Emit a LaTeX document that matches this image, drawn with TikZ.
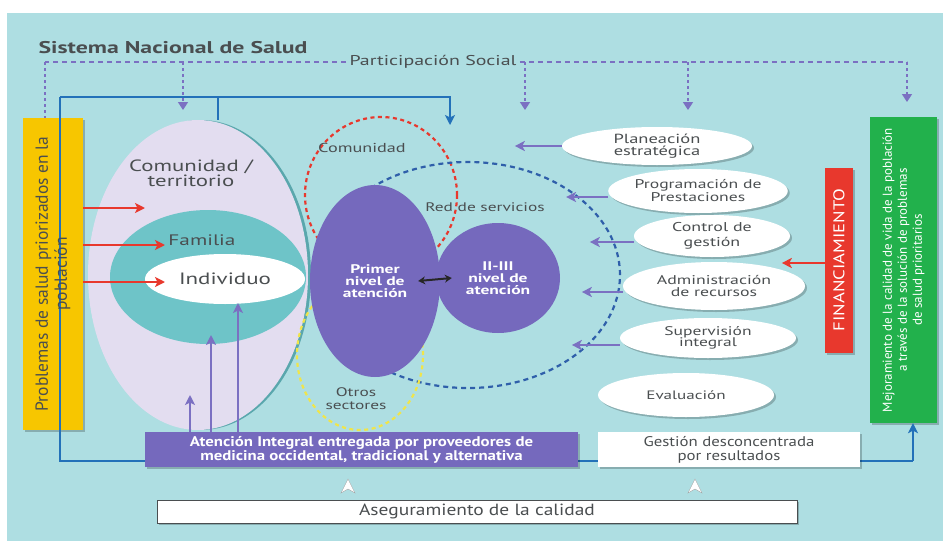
\documentclass[tikz,border=0pt]{standalone}
\usepackage{fontspec}
\setmainfont{PT Sans}[FakeStretch=1.4]
\newfontfamily\cajafont{PT Sans}[FakeStretch=1.2]
\newfontfamily\rotfont{PT Sans}
\usetikzlibrary{shapes.geometric}
\usetikzlibrary{shadows}
\usetikzlibrary{positioning}
\usetikzlibrary{arrows.meta}

\begin{document}
\begin{tikzpicture}[x=1pt,y=-1pt,>={Stealth[length=10pt,width=10pt,inset=2.5pt]},
	sombra/.style={drop shadow={shadow xshift=2pt,shadow yshift=-2pt,fill=black,opacity=.22}},
	caja/.style={rectangle,inner sep=0pt,align=center,sombra},
	elipse/.style={ellipse,inner sep=0pt,align=center},
	gestion/.style={elipse,fill=white,sombra,text=texto},
	participa/.style={draw=lila,line width=1.6pt,dash pattern=on 5pt off 4pt},
	baja/.style={draw=lila,line width=1.6pt,dash pattern=on 3pt off 3pt,
		-{Triangle[length=8pt,width=10pt]}},
	flecha roja/.style={->,draw=rojo,line width=2.2pt},
	flecha lila/.style={->,draw=lila,line width=2pt},
	linea azul/.style={draw=azul,line width=1.5pt},
	etiqueta/.style={text=texto,align=center}]

	\definecolor{fondo}{RGB}{174,222,226}
	\definecolor{lavanda}{RGB}{227,221,240}
	\definecolor{turquesa}{RGB}{110,196,200}
	\definecolor{verdeazul}{RGB}{90,167,173}
	\definecolor{morado}{RGB}{117,105,189}
	\definecolor{lila}{RGB}{123,112,194}
	\definecolor{rojo}{RGB}{232,56,45}
	\definecolor{amarillo}{RGB}{247,198,0}
	\definecolor{verde}{RGB}{34,177,76}
	\definecolor{azul}{RGB}{35,113,185}
	\definecolor{azulpunto}{RGB}{47,95,170}
	\definecolor{amarillopunto}{RGB}{240,229,74}
	\definecolor{texto}{RGB}{74,78,80}

	\useasboundingbox (0,0) rectangle (943,541);
	\fill[fondo] (7,13) rectangle (943,541);

	\node[etiqueta,anchor=west,font=\fontsize{17}{17}\selectfont\bfseries] (titulo) at (35,48) {Sistema Nacional de Salud};

	% participacion social
	\node[etiqueta,font=\fontsize{14.2}{14}\selectfont] (ps) at (433,62) {Participación Social};
	\coordinate (pl) at (45,62);
	\coordinate (pr) at (907,62);
	\coordinate (p1) at (183,62);
	\coordinate (p2) at (525,62);
	\coordinate (p3) at (688,62);
	\draw[participa] (ps.west) -- (pl);
	\draw[participa] (ps.east) -- (pr);

	% linea azul
	\coordinate (b0) at (60,97);
	\coordinate (b1) at (450,97);
	\coordinate (b2) at (218,97);
	\coordinate (b3) at (60,461);
	\coordinate (b4) at (913,461);

	\node[caja,fill=amarillo,minimum width=60pt,minimum height=312pt] (prob) at (53,274) {};
	\node[caja,fill=verde,minimum width=67pt,minimum height=306pt] (mejora) at (903.5,270) {};
	\node[caja,fill=rojo,minimum width=28pt,minimum height=185pt] (fin) at (839,260) {};

	\draw[participa,dash pattern=on 3pt off 3pt] (pl) -- (pl |- prob.north);
	\draw[baja] (p1) -- ++(0,48);
	\draw[baja] (p2) -- ++(0,48);
	\draw[baja] (p3) -- ++(0,48);
	\draw[baja] (pr) -- ++(0,40);

	\draw[linea azul] (b0) -- (b3) -- (b4);
	\draw[linea azul,->] (b4) -- (b4 |- mejora.south);
	\draw[linea azul,->] (b0) -- (b1) -- ++(0,28);

	\node[rotate=90,align=center,text=texto,font=\rotfont\fontsize{17.5}{19}\selectfont] at (prob.center) {Problemas de salud priorizados en la\\población};
	\node[rotate=90,align=center,text=white,font=\rotfont\fontsize{13}{15}\selectfont] at (mejora.center) {Mejoramiento de la calidad de vida de la población\\a través de la solución de problemas\\de salud prioritarios};
	\node[rotate=90,text=white,font=\cajafont\fontsize{15.5}{16}\selectfont] at (fin.center) {FINANCIAMIENTO};

	% comunidad, familia, individuo
	\node[elipse,minimum width=220pt,minimum height=310pt,fill=lavanda,
		drop shadow={shadow xshift=3pt,shadow yshift=0pt,fill=verdeazul,opacity=1}] (comunidad) at (198,275) {};
	\draw[linea azul] (b2) -- (b2 |- comunidad.north);
	\node[etiqueta,font=\fontsize{16.3}{15}\selectfont] (comlbl) at (191,173) {Comunidad /\\territorio};
	\node[elipse,minimum width=196pt,minimum height=134pt,fill=turquesa] (familia) at (208,277) {};
	\node[etiqueta,font=\fontsize{15.2}{15}\selectfont] (famlbl) at (202,240) {Familia};
	\node[elipse,minimum width=160pt,minimum height=50pt,fill=white,etiqueta,font=\fontsize{16.4}{15}\selectfont] (individuo) at (225,279) {Individuo};

	\coordinate (r1) at (145,208);
	\coordinate (r2) at (165,245);
	\coordinate (r3) at (165,282);
	\draw[flecha roja] (prob.east |- r1) -- (r1);
	\draw[flecha roja] (prob.east |- r2) -- (r2);
	\draw[flecha roja] (prob.east |- r3) -- (r3);

	% redes
	\draw[rojo,line width=2.2pt,dash pattern=on 4pt off 3.5pt] (381,195) ellipse [x radius=76pt,y radius=78pt];
	\draw[azulpunto,line width=2.2pt,dash pattern=on 5pt off 4pt] (468,275) ellipse [x radius=152pt,y radius=113pt];
	\draw[amarillopunto,line width=2.2pt,dash pattern=on 4pt off 3.5pt] (360,355) ellipse [x radius=63pt,y radius=75pt];
	\node[etiqueta,font=\fontsize{13}{13}\selectfont] (comred) at (362,148) {Comunidad};
	\node[etiqueta,font=\fontsize{12.4}{13}\selectfont] (redlbl) at (485,207) {Red de servicios};
	\node[etiqueta,font=\fontsize{12.4}{13}\selectfont] (otros) at (356,399) {Otros\\sectores};

	\node[elipse,minimum width=130pt,minimum height=192pt,fill=morado,text=white,font=\fontsize{12.5}{12}\selectfont\bfseries] (primer) at (375,281) {Primer\\nivel de\\atención};
	\node[elipse,minimum width=124pt,minimum height=110pt,fill=morado,text=white,font=\fontsize{12.5}{12}\selectfont\bfseries] (segundo) at (498,278) {II-III\\nivel de\\atención};
	\draw[<->,line width=2pt,black!85,>={Stealth[length=7pt,width=8pt]}] ([xshift=-22pt]primer.east) -- ([xshift=16pt]segundo.west);

	% procesos de gestion
	\node[gestion,minimum width=190pt,minimum height=38pt,font=\fontsize{13.2}{12.5}\selectfont] (plan) at (657,146) {Planeación\\estratégica};
	\node[gestion,minimum width=172pt,minimum height=44pt,font=\fontsize{12.6}{13}\selectfont] (prog) at (698,191) {Programación de\\Prestaciones};
	\node[gestion,minimum width=156pt,minimum height=42pt,font=\fontsize{12.8}{15}\selectfont] (control) at (712,236) {Control de\\gestión};
	\node[gestion,minimum width=182pt,minimum height=48pt,font=\fontsize{12.7}{13}\selectfont] (admin) at (714,286) {Administración\\de recursos};
	\node[gestion,minimum width=176pt,minimum height=40pt,font=\fontsize{12.5}{11.5}\selectfont] (superv) at (708,338) {Supervisión\\integral};
	\node[gestion,minimum width=176pt,minimum height=44pt,font=\fontsize{12.2}{13}\selectfont] (eval) at (686,395) {Evaluación};

	\draw[flecha lila] (plan.west) -- ++(-47,0);
	\draw[flecha lila] ([yshift=-6pt]prog.west) -- ++(-42,0);
	\draw[flecha lila] ([yshift=-6pt]control.west) -- ++(-44,0);
	\draw[flecha lila] ([yshift=-6pt]admin.west) -- ++(-41,0);
	\draw[flecha lila] ([yshift=-7pt]superv.west) -- ++(-48,0);
	\draw[flecha roja] (fin.west |- 0,263) -- ++(-43,0);

	% cajas inferiores
	\node[caja,fill=morado,minimum width=433pt,minimum height=35pt,text=white,font=\cajafont\fontsize{14}{14}\selectfont\bfseries] (atencion) at (361.5,449.5) {Atención Integral entregada por proveedores de\\medicina occidental, tradicional y alternativa};
	\node[caja,fill=white,minimum width=262pt,minimum height=35pt,text=texto,font=\cajafont\fontsize{14}{14}\selectfont] (gestdesc) at (729,449.5) {Gestión desconcentrada\\por resultados};

	\coordinate (u1) at (190,395);
	\coordinate (u2) at (211,335);
	\coordinate (u3) at (238,303);
	\draw[flecha lila] (atencion.north -| u1) -- (u1);
	\draw[flecha lila] (atencion.north -| u2) -- (u2);
	\draw[flecha lila] (atencion.north -| u3) -- (u3);

	\node[caja,fill=white,draw=texto,line width=1pt,minimum width=640pt,minimum height=23pt,text=texto,font=\cajafont\fontsize{16.2}{16}\selectfont] (calidad) at (477,511.5) {Aseguramiento de la calidad};
	\fill[white,draw=gray!70,line width=.4pt] (348,479) -- (355,493) -- (348,489) -- (341,493) -- cycle;
	\fill[white,draw=gray!70,line width=.4pt] (695,479) -- (702,493) -- (695,489) -- (688,493) -- cycle;
\end{tikzpicture}
\end{document}
